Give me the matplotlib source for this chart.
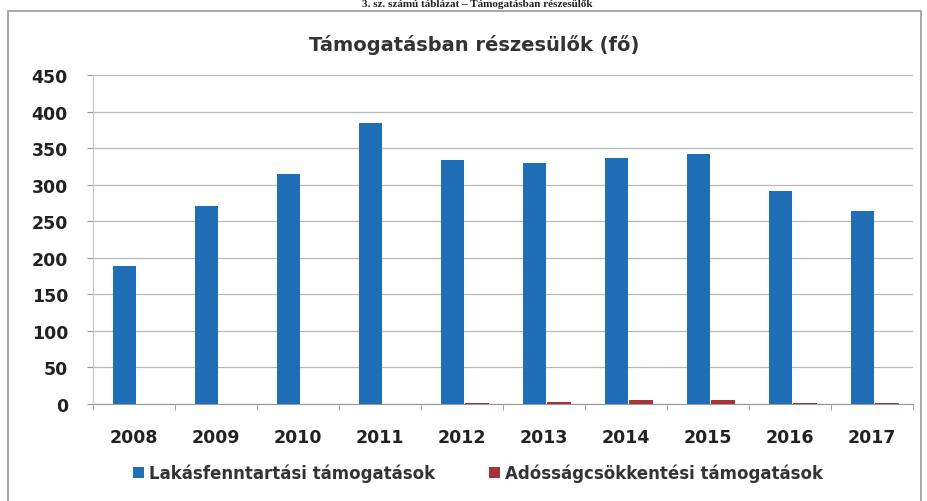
import matplotlib
matplotlib.use("Agg")
import matplotlib.pyplot as plt
import numpy as np
from matplotlib.patches import Patch, Rectangle

years = ["2008", "2009", "2010", "2011", "2012", "2013", "2014", "2015", "2016", "2017"]
lakas = [189, 271, 314, 384, 334, 330, 336, 342, 292, 264]
adossag = [0, 0, 0, 0, 2, 3, 6, 5, 2, 2]
series_names = ["Lakásfenntartási támogatások", "Adósságcsökkentési támogatások"]
title = "Támogatásban részesülők (fő)"
top_caption = "3. sz. számú táblázat – Támogatásban részesülők"

blue = "#1F6EB6"
red = "#A8323A"
txt = "#222222"

plt.rcParams["font.family"] = ["DejaVu Sans"]

fig = plt.figure(figsize=(9.27, 5.02), dpi=100)
fig.patch.set_facecolor("white")

# outer frame of chart
fig.patches.append(Rectangle((8/927, -0.01), (921-8)/927, 1 - 12/502 + 0.01,
                             transform=fig.transFigure, fill=False,
                             edgecolor="#9a9a9a", linewidth=1.2))

ax = fig.add_axes([93/927, 1-405/502, (913-93)/927, (405-76)/502])
x = np.arange(len(years))
w = 0.29
ax.bar(x - 0.5 + 0.385, lakas, width=w, color=blue, zorder=3)
ax.bar(x - 0.5 + 0.68, adossag, width=w, color=red, zorder=3)

ax.set_xlim(-0.5, len(years) - 0.5)
ax.set_ylim(0, 450)
ax.set_yticks(np.arange(0, 451, 50))
ax.yaxis.grid(True, color="#b8b8b8", linewidth=0.9, zorder=0)
ax.set_axisbelow(True)

ax.set_xticks(x)
ax.set_xticklabels(years, fontsize=12.5, fontweight="bold", color=txt)
ax.tick_params(axis="x", length=0, pad=17)
ax.set_xticks(np.arange(-0.5, len(years)), minor=True)
ax.tick_params(axis="x", which="minor", length=4, color="#999999", direction="out")
for lbl in ax.get_yticklabels():
    lbl.set_fontweight("bold")
ax.tick_params(axis="y", labelsize=12.5, labelcolor=txt, length=4, color="#999999", pad=14)

for s in ["top", "right"]:
    ax.spines[s].set_visible(False)
ax.spines["left"].set_color("#c8c8c8")
ax.spines["bottom"].set_color("#999999")

fig.text(474/927, 1-45/502, title, ha="center", va="center", fontsize=14,
         fontweight="bold", color="#333333")
fig.text(477/927, 1.0, top_caption, ha="center", va="top", fontsize=8,
         fontweight="bold", color="#222222", family="Liberation Serif")

handles = [Patch(facecolor=blue), Patch(facecolor=red)]
fig.legend(handles, series_names, loc="center", bbox_to_anchor=(478/927, 1-474/502),
           ncol=2, frameon=False, handlelength=0.7, handleheight=0.7,
           handletextpad=0.3, columnspacing=3.2,
           prop={"weight": "bold", "size": 12})
for t in fig.legends[0].get_texts():
    t.set_color("#333333")

fig.savefig("out.png", dpi=100)
